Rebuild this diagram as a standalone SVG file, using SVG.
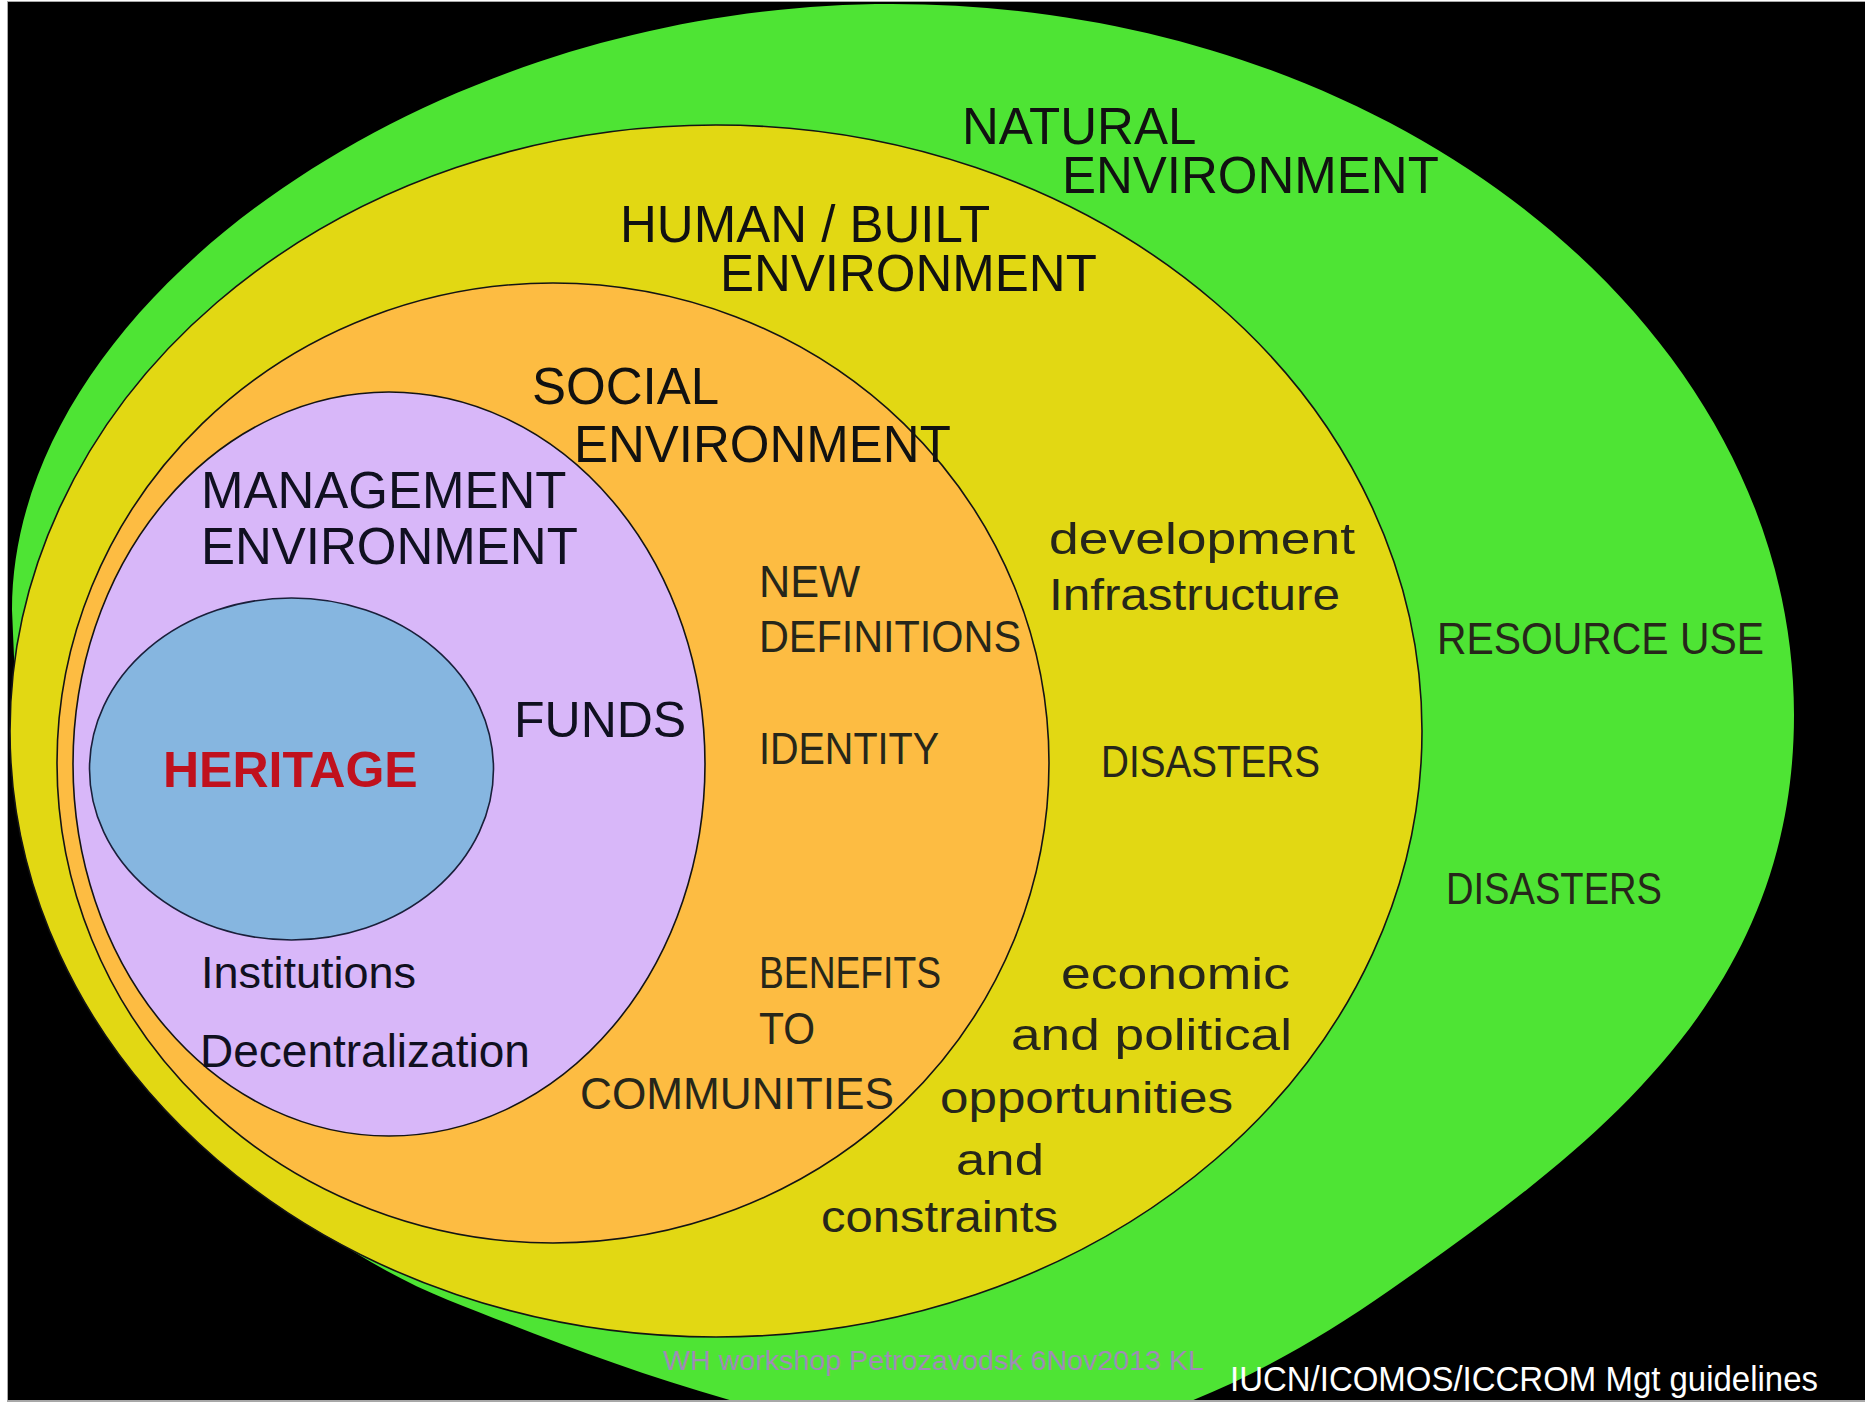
<svg xmlns="http://www.w3.org/2000/svg" width="1865" height="1404" viewBox="0 0 1865 1404">
  <defs>
    <clipPath id="frame">
      <rect x="8" y="2" width="1857" height="1398"/>
    </clipPath>
    <style>
      .ring { stroke: #141414; stroke-width: 1.6; }
      .title { font-family: "Liberation Sans", Arial, sans-serif; font-size: 51px; fill: #111; }
      .gothic { font-family: "Liberation Sans", Arial, sans-serif; font-size: 44px; fill: #26261a; }
      .mgmt { font-family: "Liberation Sans", Arial, sans-serif; fill: #101020; }
    </style>
  </defs>

  <!-- slide frame -->
  <rect x="0" y="0" width="1865" height="1404" fill="#ffffff"/>
  <rect x="7" y="1" width="1858" height="1401" fill="#a8a8a8"/>
  <rect x="8" y="2" width="1857" height="1398" fill="#000000"/>

  <g clip-path="url(#frame)">
    <g id="natural-environment">
      <path fill="#4ee434"
            d="M 12,610 C 12,300 430,4 892,4 C 1388,4 1794,324 1794,715 C 1794,1000 1590,1150 1390,1290 C 1250,1388 1120,1440 1000,1445 C 800,1440 600,1360 448,1300 C 250,1220 40,1000 15,680 Z"/>
      <text class="title" x="962" y="144">NATURAL</text>
      <text class="title" x="1062" y="193">ENVIRONMENT</text>
      <text class="gothic" x="1437" y="654" textLength="327" lengthAdjust="spacingAndGlyphs">RESOURCE USE</text>
      <text class="gothic" x="1446" y="904" textLength="216" lengthAdjust="spacingAndGlyphs">DISASTERS</text>
    </g>

    <g id="human-built-environment">
      <ellipse class="ring" cx="716" cy="731" rx="706" ry="606" fill="#e2d813"/>
      <text class="title" x="620" y="242">HUMAN / BUILT</text>
      <text class="title" x="720" y="291">ENVIRONMENT</text>
      <text class="gothic" x="1049" y="554" textLength="306" lengthAdjust="spacingAndGlyphs">development</text>
      <text class="gothic" x="1049" y="610" textLength="291" lengthAdjust="spacingAndGlyphs">Infrastructure</text>
      <text class="gothic" x="1101" y="777" textLength="219" lengthAdjust="spacingAndGlyphs">DISASTERS</text>
      <text class="gothic" x="1061" y="989" textLength="229" lengthAdjust="spacingAndGlyphs">economic</text>
      <text class="gothic" x="1011" y="1050" textLength="281" lengthAdjust="spacingAndGlyphs">and political</text>
      <text class="gothic" x="940" y="1113" textLength="293" lengthAdjust="spacingAndGlyphs">opportunities</text>
      <text class="gothic" x="956" y="1175" textLength="88" lengthAdjust="spacingAndGlyphs">and</text>
      <text class="gothic" x="821" y="1232" textLength="237" lengthAdjust="spacingAndGlyphs">constraints</text>
    </g>

    <g id="social-environment">
      <ellipse class="ring" cx="553" cy="763" rx="496" ry="480" fill="#fdbc42"/>
      <text class="title" x="532" y="404">SOCIAL</text>
      <text class="title" x="574" y="462">ENVIRONMENT</text>
      <text class="gothic" x="759" y="597" textLength="101" lengthAdjust="spacingAndGlyphs">NEW</text>
      <text class="gothic" x="759" y="652" textLength="262" lengthAdjust="spacingAndGlyphs">DEFINITIONS</text>
      <text class="gothic" x="759" y="764" textLength="180" lengthAdjust="spacingAndGlyphs">IDENTITY</text>
      <text class="gothic" x="759" y="988" textLength="182" lengthAdjust="spacingAndGlyphs">BENEFITS</text>
      <text class="gothic" x="759" y="1044" textLength="56" lengthAdjust="spacingAndGlyphs">TO</text>
      <text class="gothic" x="580" y="1109" textLength="314" lengthAdjust="spacingAndGlyphs">COMMUNITIES</text>
    </g>

    <g id="management-environment">
      <ellipse class="ring" cx="389" cy="764" rx="316" ry="372" fill="#d8b7f9"/>
      <text class="mgmt" x="201" y="508" font-size="51">MANAGEMENT</text>
      <text class="mgmt" x="201" y="564" font-size="51">ENVIRONMENT</text>
      <text class="mgmt" x="514" y="737" font-size="50">FUNDS</text>
      <text class="mgmt" x="201" y="988" font-size="45">Institutions</text>
      <text class="mgmt" x="200" y="1067" font-size="46">Decentralization</text>
    </g>

    <g id="heritage">
      <ellipse cx="291.5" cy="769" rx="202" ry="171" fill="#86b6e0" stroke="#1a1f3a" stroke-width="1.6"/>
      <text x="163" y="787" font-family="Liberation Sans, Arial, sans-serif" font-size="50" font-weight="bold" fill="#c0111d">HERITAGE</text>
    </g>

    <g id="connectors"/>

    <g id="footer">
      <text x="663" y="1370" font-family="Liberation Sans, Arial, sans-serif" font-size="28" fill="#a08cb6" textLength="541" lengthAdjust="spacingAndGlyphs">WH workshop Petrozavodsk 6Nov2013 KL</text>
      <text x="1230" y="1391" font-family="Liberation Sans, Arial, sans-serif" font-size="35" fill="#ffffff" textLength="588" lengthAdjust="spacingAndGlyphs">IUCN/ICOMOS/ICCROM Mgt guidelines</text>
    </g>
  </g>
</svg>
